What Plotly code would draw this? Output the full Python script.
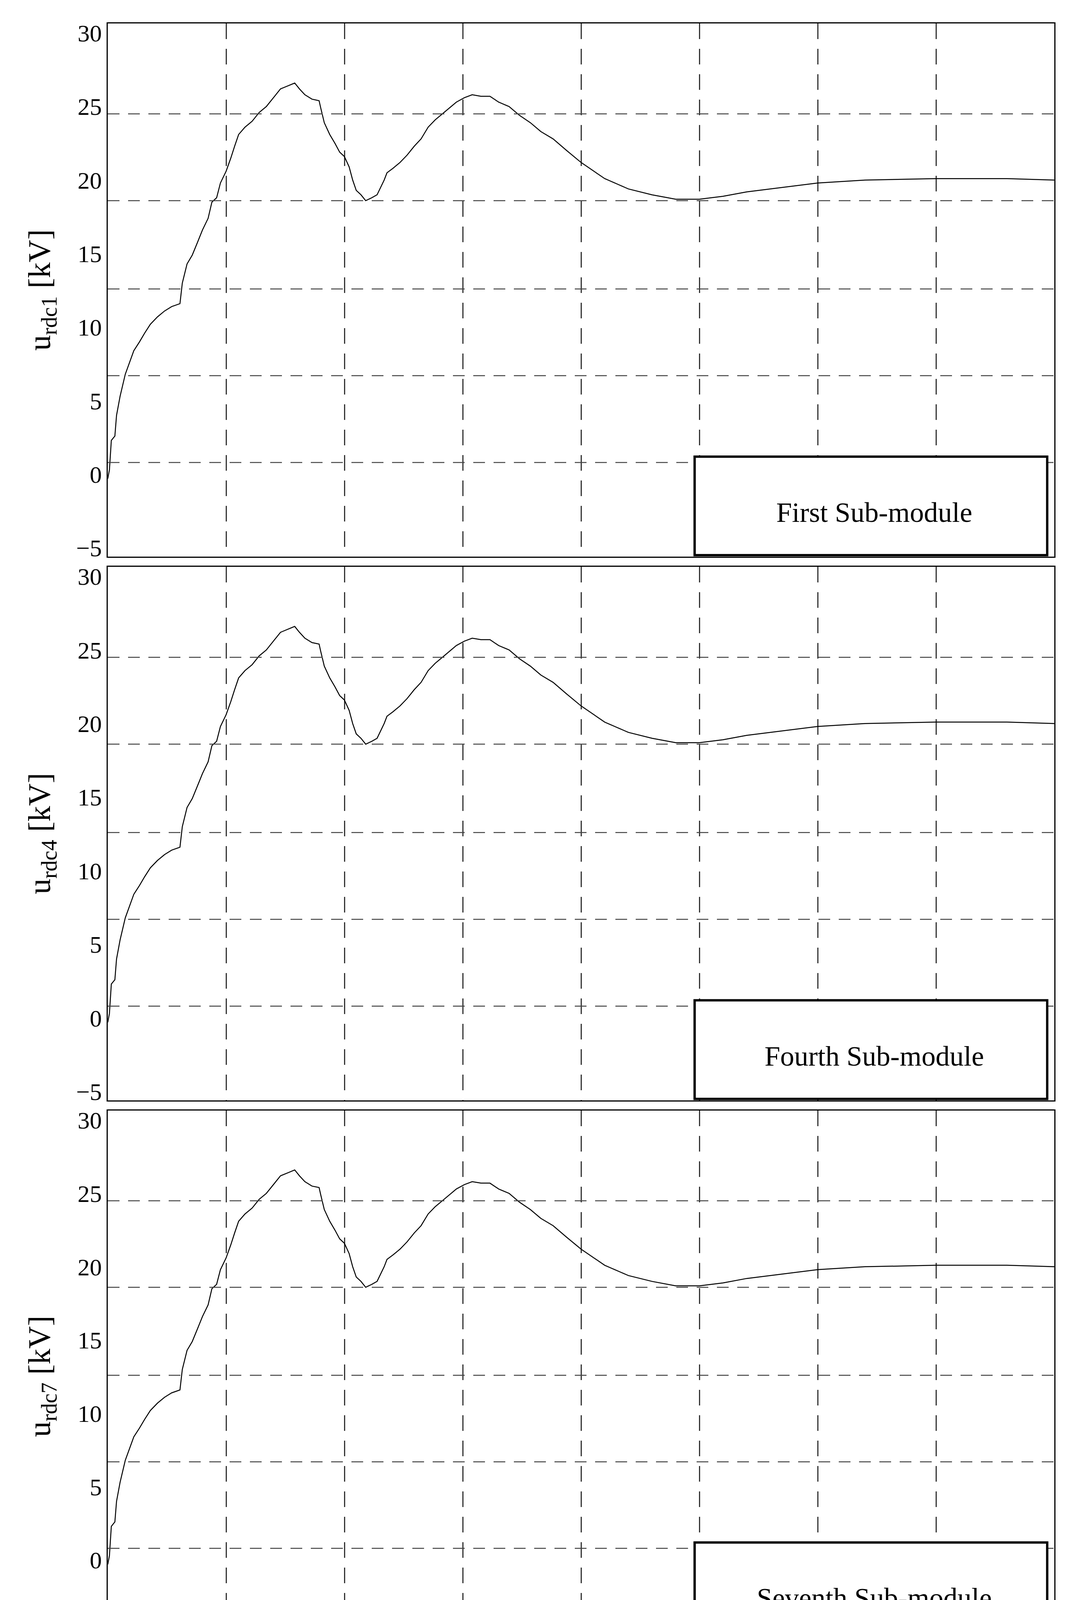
import plotly.graph_objects as go
from plotly.subplots import make_subplots

# time [s] and voltage [kV] (same shape in every sub-module)
t = [0, 0.007, 0.015, 0.03, 0.037, 0.052, 0.074, 0.097, 0.11, 0.134, 0.156, 0.18, 0.21,
     0.24, 0.27, 0.305, 0.315, 0.335, 0.357, 0.38, 0.40, 0.424, 0.44, 0.46, 0.476, 0.5,
     0.52, 0.536, 0.553, 0.58, 0.61, 0.64, 0.67, 0.70, 0.73, 0.76, 0.79, 0.81, 0.833,
     0.863, 0.893, 0.9, 0.915, 0.938, 0.96, 0.98, 1.0, 1.02, 1.035, 1.05, 1.07, 1.09,
     1.116, 1.138, 1.153, 1.168, 1.18, 1.205, 1.235, 1.265, 1.295, 1.324, 1.354, 1.384,
     1.414, 1.443, 1.473, 1.507, 1.54, 1.577, 1.615, 1.652, 1.696, 1.74, 1.786, 1.83,
     1.882, 1.94, 2.0, 2.1, 2.2, 2.3, 2.4, 2.5, 2.6, 2.7, 2.8, 2.9, 3.0, 3.2, 3.5, 3.8, 4.0]
u = [-0.3, 0.3, 2.3, 2.6, 4.0, 5.3, 6.8, 7.8, 8.4, 9.0, 9.6, 10.2, 10.7,
     11.1, 11.4, 11.6, 13.0, 14.3, 14.9, 15.8, 16.6, 17.4, 18.5, 18.8, 19.8, 20.6,
     21.5, 22.3, 23.1, 23.6, 24.0, 24.6, 25.0, 25.6, 26.2, 26.4, 26.6, 26.2, 25.8,
     25.5, 25.4, 24.9, 23.9, 23.1, 22.5, 21.9, 21.6, 20.9, 20.0, 19.3, 19.0, 18.6,
     18.8, 19.0, 19.5, 20.0, 20.5, 20.8, 21.2, 21.7, 22.3, 22.8, 23.6, 24.1,
     24.5, 24.9, 25.3, 25.6, 25.8, 25.7, 25.7, 25.3, 25.0, 24.4, 23.9, 23.3,
     22.8, 22.0, 21.2, 20.1, 19.4, 19.0, 18.7, 18.7, 18.9, 19.2, 19.4, 19.6, 19.8, 20.0, 20.1, 20.1, 20.0]

panel_names = ["First Sub-module", "Fourth Sub-module", "Seventh Sub-module", "Eleventh Sub-module"]
y_titles = ["rdc1", "rdc4", "rdc7", "rdc11"]
y_ticks = [-5, 0, 5, 10, 15, 20, 25, 30]
h_grid = [0.8, 6.7, 12.6, 18.6, 24.5]
x_ticks = [0, 0.5, 1, 1.5, 2, 2.5, 3, 3.5, 4]
x_ticktext = ["0", "0. 5", "1", "1. 5", "2", "2. 5", "3", "3. 5", "4"]

W, H = 2753, 5808
top_px, bot_px = 52, 5564
panels_px = [(52, 1417), (1443, 2809), (2835, 4196), (4215, 5564)]
span = bot_px - top_px

fig = make_subplots(rows=4, cols=1)
font = "Liberation Serif"

for i in range(4):
    r = i + 1
    fig.add_trace(go.Scatter(x=t, y=u, mode="lines", line=dict(color="black", width=2.5),
                             showlegend=False), row=r, col=1)
    for g in h_grid:
        fig.add_hline(y=g, line=dict(color="#444", width=2.5, dash="30px,22px"), row=r, col=1)
    fig.add_shape(type="rect", x0=2.48, x1=3.97, y0=-5.5, y1=1.2,
                  line=dict(color="black", width=6), fillcolor="white", row=r, col=1)
    fig.add_annotation(x=3.24, y=-2.6, text=panel_names[i], showarrow=False,
                       font=dict(family=font, size=72, color="black"), row=r, col=1)
    a, b = panels_px[i]
    yname = "yaxis" if i == 0 else f"yaxis{r}"
    fig.layout[yname].domain = [max(0, (bot_px - b) / span), min(1, (bot_px - a) / span)]
    fig.update_yaxes(range=[-5.6, 30.65], tickvals=y_ticks, showgrid=False, zeroline=False,
                     showline=True, mirror=True, linecolor="black", linewidth=2.5,
                     tickfont=dict(family=font, size=62, color="black"), ticks="",
                     title=dict(text=f"u<sub>{y_titles[i]}</sub> [kV]", standoff=40,
                                font=dict(family=font, size=80, color="black")),
                     row=r, col=1)
    fig.update_xaxes(range=[0, 4], tickvals=x_ticks, ticktext=x_ticktext,
                     showticklabels=(r == 4), showgrid=True, gridcolor="#333", gridwidth=2.5,
                     griddash="40px,25px", zeroline=False, showline=True, mirror=True,
                     linecolor="black", linewidth=2.5, ticks="",
                     tickfont=dict(family=font, size=64, color="black"), row=r, col=1)

fig.update_xaxes(title=dict(text="t [s]", font=dict(family=font, size=80, color="black"), standoff=50),
                 row=4, col=1)
fig.update_layout(width=W, height=H, plot_bgcolor="white", paper_bgcolor="white",
                  margin=dict(l=268, r=61, t=top_px, b=H - bot_px))
fig.write_html("out.html")
